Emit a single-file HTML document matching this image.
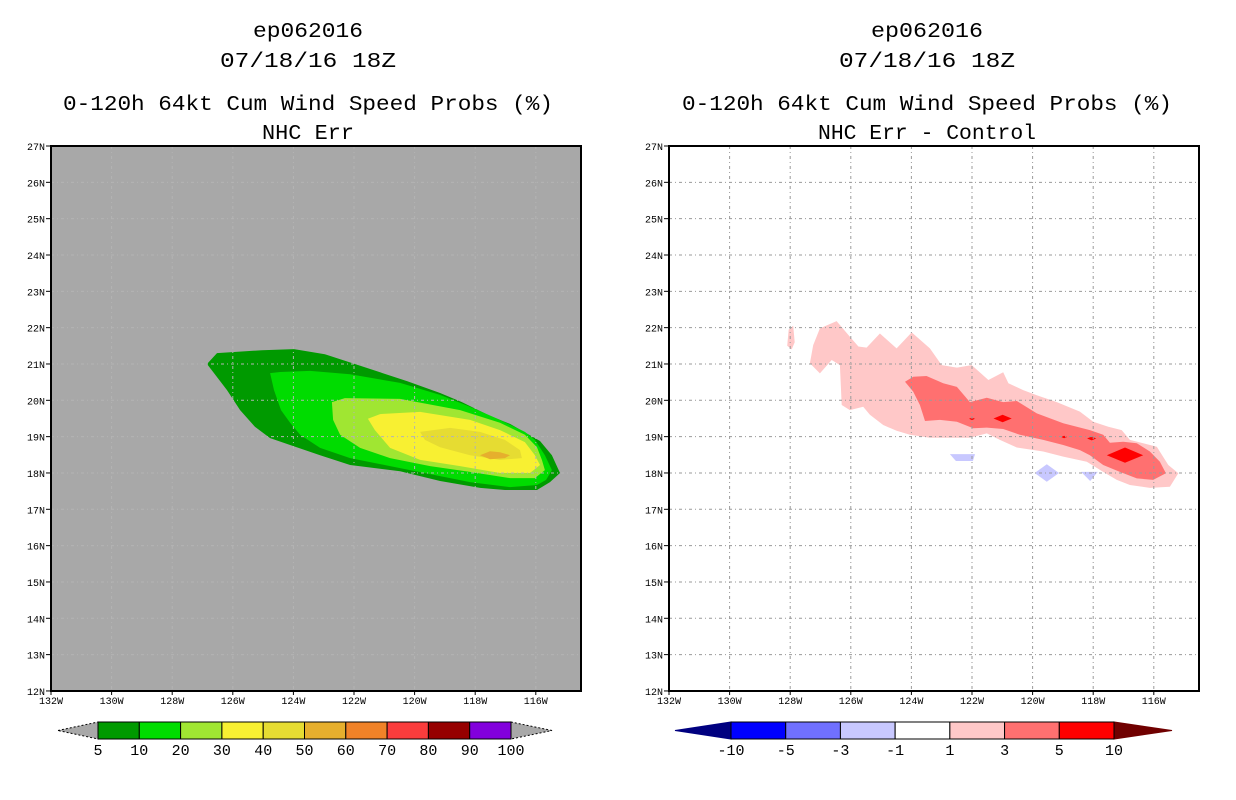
<!DOCTYPE html>
<html><head><meta charset="utf-8"><style>
html,body{margin:0;padding:0;background:#fff;}
svg{display:block;font-family:"Liberation Mono","DejaVu Sans Mono",monospace;}
</style></head><body>
<svg id="root" width="1236" height="800" viewBox="0 0 1236 800" xmlns="http://www.w3.org/2000/svg">
<g font-size="21" text-anchor="middle" fill="#000">
<text x="308" y="37" textLength="110" lengthAdjust="spacingAndGlyphs">ep062016</text>
<text x="308" y="67" textLength="176" lengthAdjust="spacingAndGlyphs">07/18/16 18Z</text>
<text x="308" y="110" textLength="490" lengthAdjust="spacingAndGlyphs">0-120h 64kt Cum Wind Speed Probs (%)</text>
<text x="308" y="139" textLength="92" lengthAdjust="spacingAndGlyphs">NHC Err</text>
</g>
<g font-size="21" text-anchor="middle" fill="#000">
<text x="927" y="37" textLength="112" lengthAdjust="spacingAndGlyphs">ep062016</text>
<text x="927" y="67" textLength="176" lengthAdjust="spacingAndGlyphs">07/18/16 18Z</text>
<text x="927" y="110" textLength="490" lengthAdjust="spacingAndGlyphs">0-120h 64kt Cum Wind Speed Probs (%)</text>
<text x="927" y="139" textLength="218" lengthAdjust="spacingAndGlyphs">NHC Err - Control</text>
</g>
<g id="leftPlot"></g>
<g id="rightPlot"></g>
<g id="leftBar"></g>
<g id="rightBar"></g>
</svg>
<script>
// ---- data (lon in degrees W, lat in degrees N) ----
const lonTicks = [132,130,128,126,124,122,120,118,116];
const latTicks = [27,26,25,24,23,22,21,20,19,18,17,16,15,14,13,12];
const probLevels = ["5","10","20","30","40","50","60","70","80","90","100"];
const probColors = ["#009a00","#00dc00","#a0e632","#f8f032","#e6dc32","#e6af2d","#f08228","#fa3c3c","#960000","#8200dc"];
const diffLevels = ["-10","-5","-3","-1","1","3","5","10"];
const diffColors = ["#0000ff","#7070ff","#c8c8ff","#ffffff","#ffc8c8","#ff7070","#ff0000"];

const prob5Lon = [126.85,126.52,125.04,123.98,122.96,121.97,120.25,119.16,118.44,117.51,116.85,115.86,115.47,115.2,115.53,115.96,117.02,117.84,119.16,120.48,122.13,123.12,124.11,124.77,125.27,125.76,126.19];
const prob5Lat = [21.0,21.3,21.38,21.41,21.27,21.0,20.53,20.2,19.95,19.57,19.35,18.88,18.49,18.0,17.75,17.53,17.53,17.59,17.78,18.05,18.22,18.49,18.77,18.96,19.27,19.73,20.28];
const prob10Lon = [124.77,124.44,123.45,122.13,120.48,119.16,118.17,117.18,116.36,116.03,115.7,115.47,115.66,115.96,116.85,118.17,119.49,120.81,122.13,123.12,123.78,124.11,124.41,124.64];
const prob10Lat = [20.75,20.78,20.81,20.72,20.48,20.15,19.82,19.46,19.13,18.91,18.49,18.08,17.81,17.67,17.61,17.75,17.97,18.19,18.41,18.69,19.05,19.38,19.73,20.28];
const prob20Lon = [122.73,122.3,120.48,118.5,117.18,116.36,115.96,115.8,115.7,116.03,116.85,118.17,119.49,120.81,121.8,122.46,122.69];
const prob20Lat = [19.95,20.06,20.04,19.73,19.38,19.05,18.71,18.36,18.08,17.86,17.86,18.03,18.19,18.41,18.69,19.05,19.46];
const prob30Lon = [121.54,121.14,119.82,118.17,117.18,116.36,116.03,115.86,116.19,117.18,118.5,119.82,120.81,121.31];
const prob30Lat = [19.49,19.62,19.68,19.46,19.18,18.85,18.49,18.22,18.0,18.0,18.19,18.36,18.69,19.18];
const prob40Lon = [119.82,118.83,117.84,117.02,116.52,116.46,117.18,118.17,119.16,119.66];
const prob40Lat = [19.13,19.24,19.13,18.91,18.63,18.41,18.36,18.49,18.71,18.91];
const prob50Lon = [117.84,117.51,117.18,116.85,117.02,117.51];
const prob50Lat = [18.49,18.6,18.57,18.49,18.41,18.38];

const diff1Lon = [127.35,127.24,127.02,126.47,126.03,125.75,125.48,125.04,124.49,123.99,123.39,123.0,122.5,122.01,121.46,120.97,120.8,120.31,119.86,119.2,118.44,118.0,117.5,117.06,116.79,116.35,115.9,115.52,115.19,115.47,116.13,116.79,117.22,117.67,118.21,118.99,119.65,120.52,121.08,121.51,122.07,123.39,124.05,124.49,124.93,125.37,125.59,126.03,126.3,126.36,126.63,127.02];
const diff1Lat = [21.02,21.52,21.98,22.18,21.75,21.48,21.45,21.84,21.43,21.87,21.43,20.97,20.9,20.97,20.56,20.77,20.47,20.28,20.14,19.95,19.69,19.41,19.27,19.18,18.91,18.82,18.72,18.22,17.99,17.62,17.59,17.67,17.81,18.03,18.31,18.45,18.59,18.7,18.91,19.09,18.97,18.97,19.05,19.16,19.32,19.6,19.82,19.73,19.87,20.97,21.11,20.74];
const diff1bLon = [128.1,128.05,127.9,127.85,127.95];
const diff1bLat = [21.5,21.95,22.05,21.6,21.4];
const diff3Lon = [124.21,123.94,123.5,122.95,122.5,122.07,121.51,120.97,120.52,119.86,118.99,118.11,117.67,117.45,117.01,116.56,116.13,115.8,115.6,116.02,116.56,117.12,117.67,118.11,118.44,118.99,119.65,120.42,120.97,121.51,121.96,122.5,123.06,123.55,123.72,123.94];
const diff3Lat = [20.51,20.65,20.67,20.47,20.37,19.95,20.07,19.95,19.98,19.64,19.37,19.18,19.05,18.83,18.86,18.82,18.59,18.31,17.99,17.81,17.85,18.03,18.22,18.49,18.63,18.77,18.91,19.05,19.21,19.25,19.23,19.41,19.46,19.43,19.87,20.24];
const diff5Lon = [116.95,120.99,122.0,118.05,118.96];
const diff5Lat = [18.49,19.5,19.49,18.95,18.99];
const diff5Size = [0.6,0.3,0.1,0.15,0.1];
const negLon = [[122.73,121.9,121.97,122.53],[119.93,119.53,119.13,119.53],[118.4,117.85,118.1]];
const negLat = [[18.52,18.52,18.33,18.33],[18.0,18.24,18.0,17.76],[18.03,18.03,17.78]];

// ---- axes ----
const NS="http://www.w3.org/2000/svg";
const PW=530, PH=545, TOP=146;
function xScale(x0){return lon=>x0+(132-lon)*30.3;}
function yScale(lat){return TOP+(27-lat)*36.33;}
function mk(tag,attrs,parent){const e=document.createElementNS(NS,tag);for(const k in attrs)e.setAttribute(k,attrs[k]);parent.appendChild(e);return e;}
function poly(parent,xs,lons,lats,fill,name){
  const pts=lons.map((l,i)=>xs(l).toFixed(1)+","+yScale(lats[i]).toFixed(1)).join(" ");
  const p=mk("polygon",{points:pts,fill:fill},parent);
  
  
}
function panel(g,x0,bg,fills,isLeft){
  const xs=xScale(x0);
  const r=mk("rect",{x:x0,y:TOP,width:PW,height:PH,fill:bg},g);
  
  
  fills(xs);
  const grid=mk("g",{stroke:isLeft?"#b4b4b4":"#9a9a9a","stroke-width":1,"stroke-dasharray":"3,3,1,3"},g);
  
  
  lonTicks.slice(1).forEach(l=>{const ln=mk("line",{x1:xs(l),x2:xs(l),y1:TOP,y2:TOP+PH},grid);
    
    });
  latTicks.slice(1,-1).forEach(l=>{const ln=mk("line",{x1:x0,x2:x0+PW,y1:yScale(l),y2:yScale(l)},grid);
    
    });
  const fr=mk("rect",{x:x0,y:TOP,width:PW,height:PH,fill:"none",stroke:"#000","stroke-width":2},g);
  
  
  latTicks.forEach(l=>{
    const y=yScale(l);
    mk("line",{x1:x0-5,x2:x0,y1:y,y2:y,stroke:"#000"},g);
    const t=mk("text",{x:x0-6,y:y+4,"font-size":10,"text-anchor":"end",fill:"#000"},g);
    t.textContent=l+"N";
    
    
  });
  lonTicks.forEach(l=>{
    const x=xs(l);
    mk("line",{x1:x,x2:x,y1:TOP+PH,y2:TOP+PH+4,stroke:"#000"},g);
    const t=mk("text",{x:x,y:TOP+PH+13,"font-size":10,"text-anchor":"middle",fill:"#000"},g);
    t.textContent=l+"W";
    
    
  });
}
panel(document.getElementById("leftPlot"),51,"#a8a8a8",xs=>{
  const g=document.getElementById("leftPlot");
  poly(g,xs,prob5Lon,prob5Lat,probColors[0],"contour-5pct");
  poly(g,xs,prob10Lon,prob10Lat,probColors[1],"contour-10pct");
  poly(g,xs,prob20Lon,prob20Lat,probColors[2],"contour-20pct");
  poly(g,xs,prob30Lon,prob30Lat,probColors[3],"contour-30pct");
  poly(g,xs,prob40Lon,prob40Lat,probColors[4],"contour-40pct");
  poly(g,xs,prob50Lon,prob50Lat,probColors[5],"contour-50pct");
},true);
panel(document.getElementById("rightPlot"),669,"#ffffff",xs=>{
  const g=document.getElementById("rightPlot");
  poly(g,xs,diff1Lon,diff1Lat,diffColors[4],"contour-diff-1");
  poly(g,xs,diff1bLon,diff1bLat,diffColors[4],"contour-diff-1-small");
  poly(g,xs,diff3Lon,diff3Lat,diffColors[5],"contour-diff-3");
  diff5Lon.forEach((l,i)=>{
    const s=diff5Size[i];
    poly(g,xs,[l-s,l,l+s,l],[diff5Lat[i],diff5Lat[i]+s*0.35,diff5Lat[i],diff5Lat[i]-s*0.35],diffColors[6],"contour-diff-5");
  });
  negLon.forEach((ls,i)=>poly(g,xs,ls,negLat[i],diffColors[2],"contour-diff-neg"));
},false);

// ---- colorbars ----
function colorbar(g,x0,x1,tipL,tipR,colors,labels,lcol,rcol,dash){
  const y0=722,y1=739,ym=(y0+y1)/2,w=(x1-x0)/colors.length;
  const lt=mk("polygon",{points:`${tipL},${ym} ${x0},${y0} ${x0},${y1}`,fill:lcol,stroke:dash?"#000":lcol,"stroke-dasharray":dash?"2,2":"none"},g);
  
  
  const rt=mk("polygon",{points:`${tipR},${ym} ${x1},${y0} ${x1},${y1}`,fill:rcol,stroke:dash?"#000":rcol,"stroke-dasharray":dash?"2,2":"none"},g);
  
  
  colors.forEach((c,i)=>{
    const r=mk("rect",{x:x0+i*w,y:y0,width:w,height:y1-y0,fill:c,stroke:"#000","stroke-width":1},g);
    
    
  });
  labels.forEach((s,i)=>{
    const t=mk("text",{x:x0+i*w,y:755,"font-size":15,"text-anchor":"middle",fill:"#000"},g);
    t.textContent=s;
    
    
  });
}
colorbar(document.getElementById("leftBar"),98,511,58,552,probColors,probLevels,"#a8a8a8","#a8a8a8",true);
colorbar(document.getElementById("rightBar"),731,1114,675,1172,diffColors,diffLevels,"#000080","#700000",false);
</script>
</body></html>
